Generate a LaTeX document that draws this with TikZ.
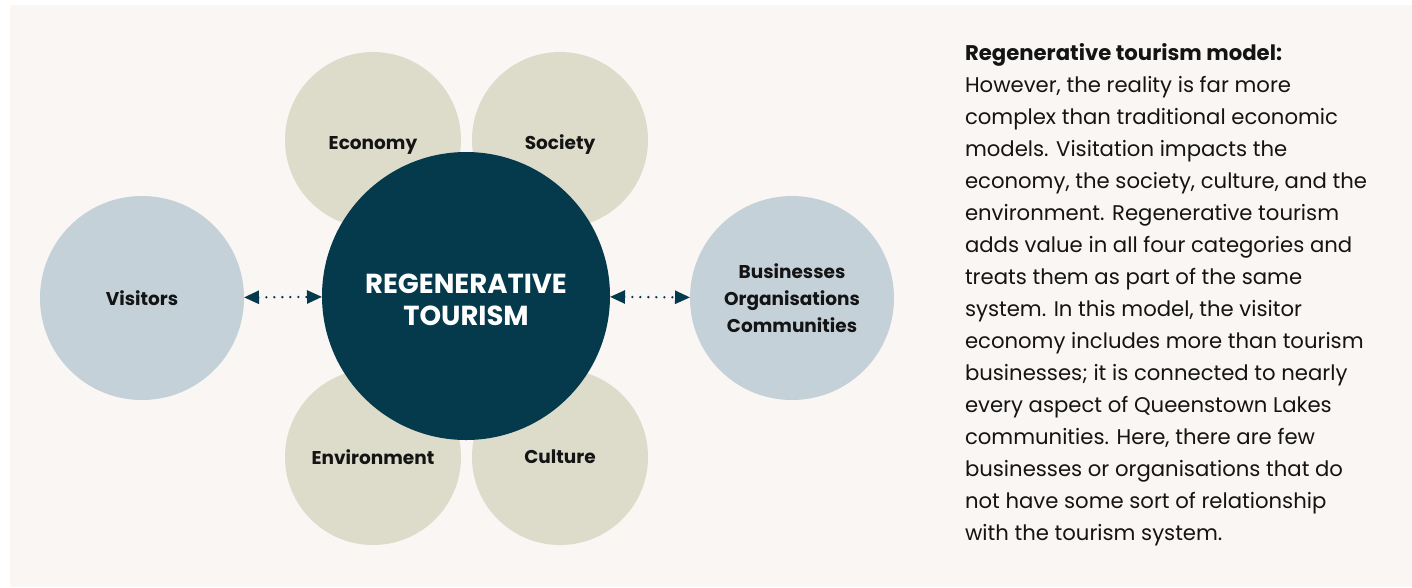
\documentclass[tikz,border=0pt]{standalone}
\usepackage{fontspec}
\setmainfont{Poppins}
\usetikzlibrary{arrows.meta}
\definecolor{bgcream}{HTML}{F9F6F3}
\definecolor{regteal}{HTML}{053A4D}
\definecolor{sage}{HTML}{DDDCCB}
\definecolor{mist}{HTML}{C4D1D9}
\definecolor{ink}{HTML}{141414}
\begin{document}
\begin{tikzpicture}[x=1pt,y=-1pt]
			    \tikzstyle{every node}=[circle,inner sep=0pt,outer sep=0pt,text=ink,font=\fontsize{18.5}{27}\selectfont\bfseries,align=center]
			    \tikzset{pillar/.style={fill=sage,minimum size=176pt}}
			    \tikzset{partner/.style={fill=mist,minimum size=204pt}}
			    \tikzset{link/.style={{Triangle[length=15pt,width=13pt]}-{Triangle[length=15pt,width=13pt]},regteal,line width=2.6pt,dash pattern=on 0pt off 8pt,line cap=round}}
			    \useasboundingbox (0,0) rectangle (1412,587);
			    \fill[bgcream] (10,5) rectangle (1412,587);
			    % the four pillars
			    \node[pillar,label={[yshift=-5pt]center:Economy}] (econ) at (373,140) {};
			    \node[pillar,label={[yshift=-5pt]center:Society}] (soc) at (560,140) {};
			    \node[pillar] (env) at (373,457) {Environment};
			    \node[pillar] (cult) at (560,457) {Culture};
			    % centre
			    \node[fill=regteal,minimum size=288pt,label={[yshift=-4pt,text=white,font=\fontsize{27.5}{32}\selectfont\bfseries]center:{REGENERATIVE\\TOURISM}}] (regen) at (466,296) {};
			    % either side
			    \node[partner] (vis) at (142,298) {Visitors};
			    \node[partner] (biz) at (792,298) {Businesses\\Organisations\\Communities};
			    \draw[link] (vis) -- (regen);
			    \draw[link] (regen) -- (biz);
			    % text block
			    \node[rectangle,anchor=north west,align=left,font=\fontsize{21.2}{32}\selectfont] (blurb) at (965,44) {%
			        \textbf{Regenerative tourism model:}\\
			        However, the reality is far more\\
			        complex than traditional economic\\
			        models. Visitation impacts the\\
			        economy, the society, culture, and the\\
			        environment. Regenerative tourism\\
			        adds value in all four categories and\\
			        treats them as part of the same\\
			        system. In this model, the visitor\\
			        economy includes more than tourism\\
			        businesses; it is connected to nearly\\
			        every aspect of Queenstown Lakes\\
			        communities. Here, there are few\\
			        businesses or organisations that do\\
			        not have some sort of relationship\\
			        with the tourism system.};
			\end{tikzpicture}
\end{document}
